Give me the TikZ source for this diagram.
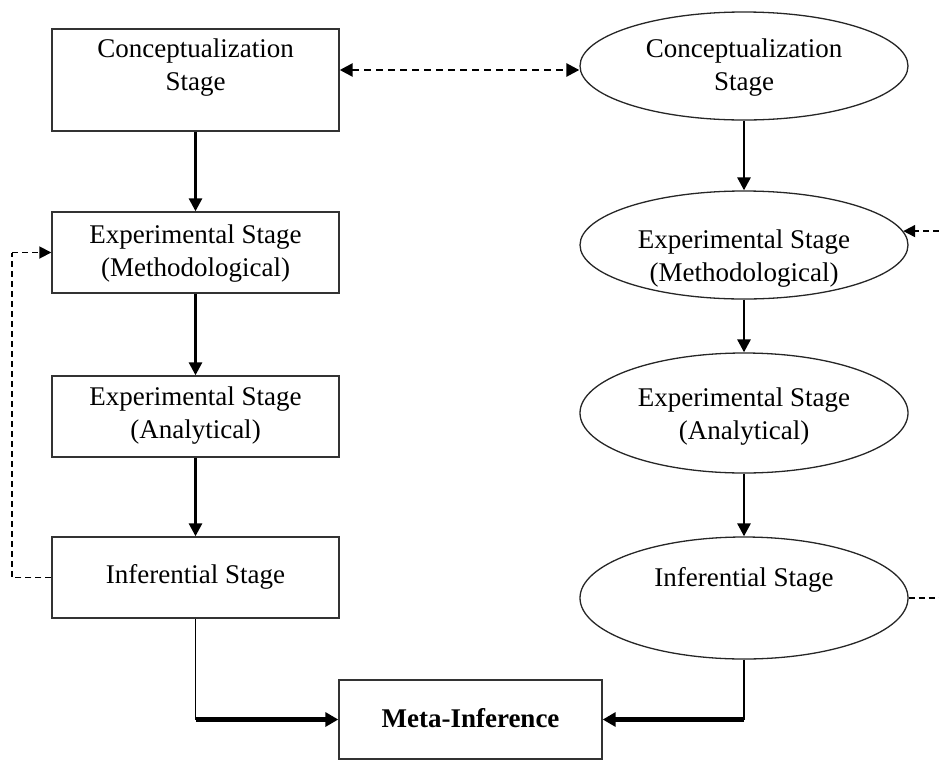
\documentclass[tikz,border=0pt]{standalone}
\usepackage{fontspec}
\setmainfont{Liberation Serif}
\usetikzlibrary{shapes.geometric,arrows.meta}
\begin{document}
\begin{tikzpicture}[x=1pt,y=-1pt,
  box/.style={draw=black!80, line width=1.4pt, rectangle, inner sep=0pt},
  oval/.style={draw=black!85, line width=1.3pt, ellipse, inner sep=0pt},
  lbl/.style={font=\fontsize{27}{33}\selectfont, align=center, inner sep=0pt},
  flow/.style={line width=2.8pt, -{Triangle[length=13pt,width=13pt]}},
  thinline/.style={line width=1.6pt},
  bigflow/.style={line width=4.2pt, -{Triangle[length=13pt,width=14pt]}},
  fb/.style={line width=1.8pt, dash pattern=on 6pt off 4pt},
  fbarrow/.style={fb, -{Triangle[length=12pt,width=12pt]}},
  dfb/.style={line width=2.6pt, dash pattern=on 7pt off 5pt, {Triangle[length=13pt,width=13pt]}-{Triangle[length=13pt,width=13pt]}}
]
\useasboundingbox (0,0) rectangle (939,761);
% left column boxes
\node[box, minimum width=287pt, minimum height=102pt] (b1) at (195.5,80) {};
\node[box, minimum width=287pt, minimum height=81pt] (b2) at (195.5,252.5) {};
\node[box, minimum width=287pt, minimum height=81pt] (b3) at (195.5,416.5) {};
\node[box, minimum width=287pt, minimum height=81pt] (b4) at (195.5,577.5) {};
\node[lbl] (t1) at (195.5,68) {Conceptualization\\Stage};
\node[lbl] (t2) at (195.5,254) {Experimental Stage\\(Methodological)};
\node[lbl] (t3) at (195.5,416) {Experimental Stage\\(Analytical)};
\node[lbl] (t4) at (195.5,577) {Inferential Stage};
% right column ellipses
\node[oval, minimum width=328pt, minimum height=108pt] (e1) at (744,66) {};
\node[oval, minimum width=328pt, minimum height=108pt] (e2) at (744,245) {};
\node[oval, minimum width=328pt, minimum height=120pt] (e3) at (744,413) {};
\node[oval, minimum width=328pt, minimum height=122pt] (e4) at (744,598) {};
\node[lbl] (u1) at (744,68) {Conceptualization\\Stage};
\node[lbl] (u2) at (744,259) {Experimental Stage\\(Methodological)};
\node[lbl] (u3) at (744,417) {Experimental Stage\\(Analytical)};
\node[lbl] (u4) at (744,580) {Inferential Stage};
% meta box
\node[box, minimum width=263pt, minimum height=79pt] (m) at (470.5,719.5) {};
\node[lbl, font=\fontsize{27}{33}\selectfont\bfseries] (mt) at (470.5,718) {Meta-Inference};
% vertical flows
\draw[flow] (b1.south) -- (b2.north);
\draw[flow] (b2.south) -- (b3.north);
\draw[flow] (b3.south) -- (b4.north);
\draw[flow] (e1.south) -- (e2.north);
\draw[flow] (e2.south) -- (e3.north);
\draw[flow] (e3.south) -- (e4.north);
% double dashed link
\coordinate (dy) at (0,70);
\draw[dfb] (b1.east |- dy) -- (e1.west |- dy);
% left feedback
\coordinate (fl) at (12,0);
\draw[fb] (b4.west) -- (fl |- b4.west) -- (fl |- b2.west);
\draw[fbarrow] (fl |- b2.west) -- (b2.west);
% right dashed ends
\coordinate (rx) at (939,0);
\draw[fbarrow] (rx |- e2.5) -- (e2.5);
\draw[fb] (e4.east) -- (rx |- e4.east);
% to meta-inference
\coordinate (lc) at (b4.south |- m.west);
\coordinate (rc) at (e4.south |- m.east);
\draw[thinline] (b4.south) -- (lc);
\draw[bigflow] (lc) -- (m.west);
\draw[thinline] (e4.south) -- (rc);
\draw[bigflow] (rc) -- (m.east);
\end{tikzpicture}
\end{document}
